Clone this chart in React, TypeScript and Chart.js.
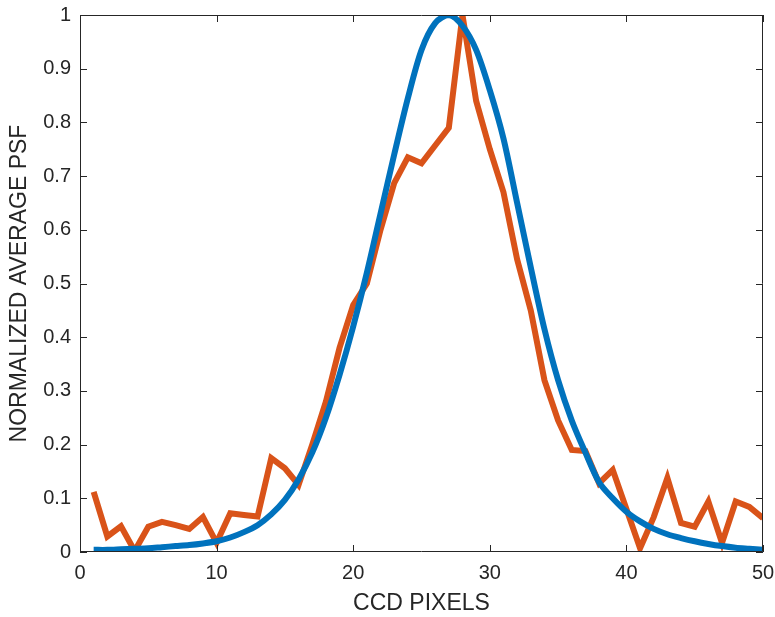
import React, { useEffect, useRef } from "react";
import { Chart, registerables } from "chart.js";

Chart.register(...registerables);

const pixels = [1,2,3,4,5,6,7,8,9,10,11,12,13,14,15,16,17,18,19,20,21,22,23,24,25,26,27,28,29,30,31,32,33,34,35,36,37,38,39,40,41,42,43,44,45,46,47,48,49,50];

const fitPSF = [0.004,0.004,0.005,0.006,0.007,0.009,0.011,0.013,0.016,0.02,0.027,0.037,0.05,0.07,0.097,0.135,0.185,0.25,0.33,0.42,0.52,0.63,0.74,0.845,0.935,0.985,1.0,0.98,0.935,0.86,0.77,0.65,0.53,0.415,0.32,0.245,0.185,0.13,0.1,0.075,0.057,0.043,0.033,0.026,0.02,0.015,0.011,0.008,0.006,0.004];

const measuredPSF = [0.112,0.029,0.048,0.002,0.047,0.056,0.05,0.043,0.065,0.017,0.072,0.069,0.066,0.175,0.156,0.125,0.2,0.28,0.38,0.46,0.5,0.6,0.687,0.735,0.724,0.757,0.79,1.0,0.84,0.75,0.67,0.545,0.45,0.32,0.245,0.19,0.188,0.128,0.153,0.08,0.007,0.065,0.138,0.054,0.047,0.094,0.017,0.094,0.084,0.063];

const xTicks = [0, 10, 20, 30, 40, 50];
const yTicks = [0, 0.1, 0.2, 0.3, 0.4, 0.5, 0.6, 0.7, 0.8, 0.9, 1];

const AXIS = "#262626";
const FONT = "'Liberation Sans', Arial, sans-serif";

const boxPlugin = {
  id: "boxTicks",
  afterDraw(chart: any) {
    const { ctx, chartArea: a, scales } = chart;
    ctx.save();
    ctx.strokeStyle = AXIS;
    ctx.lineWidth = 1;
    ctx.beginPath();
    ctx.rect(a.left + 0.5, a.top + 0.5, a.right - a.left - 1, a.bottom - a.top - 1);
    const L = 7;
    for (const t of xTicks) {
      const px = Math.round(scales.x.getPixelForValue(t)) + 0.5;
      ctx.moveTo(px, a.bottom);
      ctx.lineTo(px, a.bottom - L);
      ctx.moveTo(px, a.top);
      ctx.lineTo(px, a.top + L);
    }
    for (const t of yTicks) {
      const py = Math.round(scales.y.getPixelForValue(t)) + 0.5;
      ctx.moveTo(a.left, py);
      ctx.lineTo(a.left + L, py);
      ctx.moveTo(a.right, py);
      ctx.lineTo(a.right - L, py);
    }
    ctx.stroke();
    ctx.restore();
  },
};

export default function App() {
  const ref = useRef<HTMLCanvasElement | null>(null);
  useEffect(() => {
    if (!ref.current) return;
    const chart = new Chart(ref.current, {
      type: "line",
      data: {
        datasets: [
          {
            label: "Fit",
            data: pixels.map((p, i) => ({ x: p, y: fitPSF[i] })),
            borderColor: "#0072BD",
            borderWidth: 6,
            pointRadius: 0,
            tension: 0.3,
            fill: false,
          },
          {
            label: "Measured",
            data: pixels.map((p, i) => ({ x: p, y: measuredPSF[i] })),
            borderColor: "#D95319",
            borderWidth: 6,
            pointRadius: 0,
            tension: 0,
            fill: false,
          },
        ],
      },
      options: {
        animation: false,
        responsive: true,
        maintainAspectRatio: false,
        layout: { padding: { top: 15, right: 12, left: 0, bottom: 0 } },
        plugins: { legend: { display: false }, tooltip: { enabled: false } },
        scales: {
          x: {
            type: "linear",
            min: 0,
            max: 50,
            afterBuildTicks: (s: any) => {
              s.ticks = xTicks.map((v) => ({ value: v }));
            },
            afterFit: (s: any) => {
              s.height = 65;
              s.paddingLeft = 0;
              s.paddingRight = 0;
            },
            ticks: {
              color: AXIS,
              font: { family: FONT, size: 20 },
              padding: 9,
              maxRotation: 0,
              callback: (v: any) => String(v),
            },
            grid: { display: false, drawTicks: false },
            border: { display: false },
            title: {
              display: true,
              text: "CCD PIXELS",
              color: AXIS,
              font: { family: FONT, size: 23 },
              padding: { top: 0, bottom: 0 },
            },
          },
          y: {
            type: "linear",
            min: 0,
            max: 1,
            afterBuildTicks: (s: any) => {
              s.ticks = yTicks.map((v) => ({ value: v }));
            },
            afterFit: (s: any) => {
              s.width = 80;
              s.paddingTop = 0;
              s.paddingBottom = 0;
            },
            ticks: {
              color: AXIS,
              font: { family: FONT, size: 20 },
              padding: 9,
              callback: (v: any) => String(Number(Number(v).toFixed(1))),
            },
            grid: { display: false, drawTicks: false },
            border: { display: false },
            title: {
              display: true,
              text: "NORMALIZED AVERAGE PSF",
              color: AXIS,
              font: { family: FONT, size: 23 },
              padding: { top: 6, bottom: 0 },
            },
          },
        },
      },
      plugins: [boxPlugin],
    });
    return () => chart.destroy();
  }, []);
  return (
    <div style={{ position: "absolute", left: 0, top: 0, width: 775, height: 617, background: "#fff" }}>
      <canvas ref={ref} />
    </div>
  );
}
